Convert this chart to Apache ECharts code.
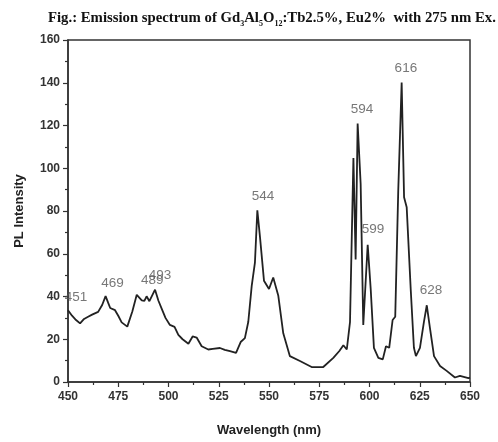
<!DOCTYPE html>
<html>
<head>
<meta charset="utf-8">
<script src="https://cdn.jsdelivr.net/npm/echarts@6/dist/echarts.min.js"></script>
<style>html,body{margin:0;padding:0;background:#fff}#c{width:498px;height:442px}</style>
</head>
<body>
<div id="c"></div>
<script>
// Emission spectrum data (wavelength nm, PL intensity)
var wavelength = [450,452,454,456,458,460,462,465,467,468.7,470,471,473.4,475,476.7,479.5,482,484.2,486.7,488,489.1,490.5,493.3,495,496.6,498.5,500.7,503,504.9,507,509.9,512,514,516.5,519.8,522,525.6,528,530.6,533.6,535.9,538,539.7,541.4,543,544.2,545.5,547.5,550,552.1,554.6,557.1,560.4,565.4,571.2,577,582,585,587,588.7,590.3,592,593.1,594.1,595.6,596.9,599.1,600.6,602.2,604.4,606.6,608.2,609.8,611.5,612.8,614.3,616,617.2,618.5,620.5,622.1,623.1,625.1,627.1,628.5,630.1,632.1,635.1,638.4,642.5,645,649.2,650];
var intensity = [33.6,31,29,27.4,29.5,30.5,31.5,32.8,36,40.2,37,34.6,33.6,31,27.9,25.9,33,40.8,38.2,38,40.1,37.8,43.2,38,34.3,30,26.7,25.8,22,20,17.9,21.3,20.8,16.7,15.2,15.5,15.9,15,14.4,13.6,18.7,20.5,28.2,45,55.8,80.3,68,47.4,43.5,48.9,40.5,22.8,12.1,9.8,7,7,11.3,14.5,17.2,15.2,28,104.8,57.3,120.9,92.6,26.7,64.2,43.5,16,11.3,10.6,16.7,16,29,30.5,89.5,140.1,86.4,81.8,43.5,16,12.1,16,28.2,35.9,25.1,12.1,7.5,5.2,2.1,2.9,1.8,2];
// Peak annotations: text and anchor in data coordinates
var peakText = ["451","469","489","493","544","594","599","616","628"];
var peakX = [454,472.1,491.9,495.8,547,596.3,601.8,618.1,630.6];
var peakY = [39.5,46.4,47.4,50.1,86.9,127.8,71.3,146.7,42.7];
var xTicks = {min:450, max:650, step:25};
var yTicks = {min:0, max:160, step:20};

var chart = echarts.init(document.getElementById('c'), null, {renderer:'canvas'});
var axisFont = {fontFamily:'Liberation Sans, Arial, sans-serif', fontWeight:'bold', fontSize:12, color:'#333'};
chart.setOption({
  animation:false,
  backgroundColor:'#fff',
  title:{
    left:48, top:8, padding:0,
    text:'{b|Fig.: Emission spectrum of Gd}{s|3}{b|Al}{s|5}{b|O}{s|12}{b|:Tb2.5%, Eu2%  with 275 nm Ex.}',
    textStyle:{
      rich:{
        b:{fontFamily:'Liberation Serif, Times New Roman, serif', fontWeight:'bold', fontSize:14.75, color:'#111', lineHeight:20, verticalAlign:'middle'},
        s:{fontFamily:'Liberation Serif, Times New Roman, serif', fontWeight:'bold', fontSize:8, color:'#111', lineHeight:20, verticalAlign:'bottom', padding:[7,0,0,0]}
      }
    }
  },
  grid:{left:68, right:28, top:40, bottom:54, show:true, borderColor:'#333', borderWidth:1.5},
  xAxis:{
    type:'value', min:xTicks.min, max:xTicks.max, interval:xTicks.step,
    name:'Wavelength (nm)', nameLocation:'middle', nameGap:42,
    nameTextStyle:{fontFamily:'Liberation Sans, Arial, sans-serif', fontWeight:'bold', fontSize:13, color:'#222'},
    axisLine:{lineStyle:{color:'#333', width:1.5}},
    axisTick:{show:true, inside:false, length:5, lineStyle:{color:'#333', width:1.2}},
    minorTick:{show:true, splitNumber:2, length:3, lineStyle:{color:'#333', width:1.2}},
    axisLabel:Object.assign({margin:9}, axisFont),
    splitLine:{show:false}
  },
  yAxis:{
    type:'value', min:yTicks.min, max:yTicks.max, interval:yTicks.step,
    name:'PL Intensity', nameLocation:'middle', nameGap:42,
    nameTextStyle:{fontFamily:'Liberation Sans, Arial, sans-serif', fontWeight:'bold', fontSize:13, color:'#222'},
    axisLine:{lineStyle:{color:'#333', width:1.5}},
    axisTick:{show:true, inside:false, length:5, lineStyle:{color:'#333', width:1.2}},
    minorTick:{show:true, splitNumber:2, length:3, lineStyle:{color:'#333', width:1.2}},
    axisLabel:Object.assign({margin:8}, axisFont),
    splitLine:{show:false}
  },
  series:[
    {
      type:'line', showSymbol:false, symbol:'none',
      data:wavelength.map(function(w,i){return [w,intensity[i]];}),
      lineStyle:{color:'#222', width:1.8},
      silent:true, z:3
    },
    {
      type:'scatter', symbolSize:0, silent:true, z:4,
      data:peakX.map(function(x,i){return [x,peakY[i],peakText[i]];}),
      label:{show:true, position:'inside', formatter:function(p){return p.data[2];},
        fontFamily:'Liberation Sans, Arial, sans-serif', fontSize:13.5, color:'#555'}
    }
  ]
});
</script>
</body>
</html>
